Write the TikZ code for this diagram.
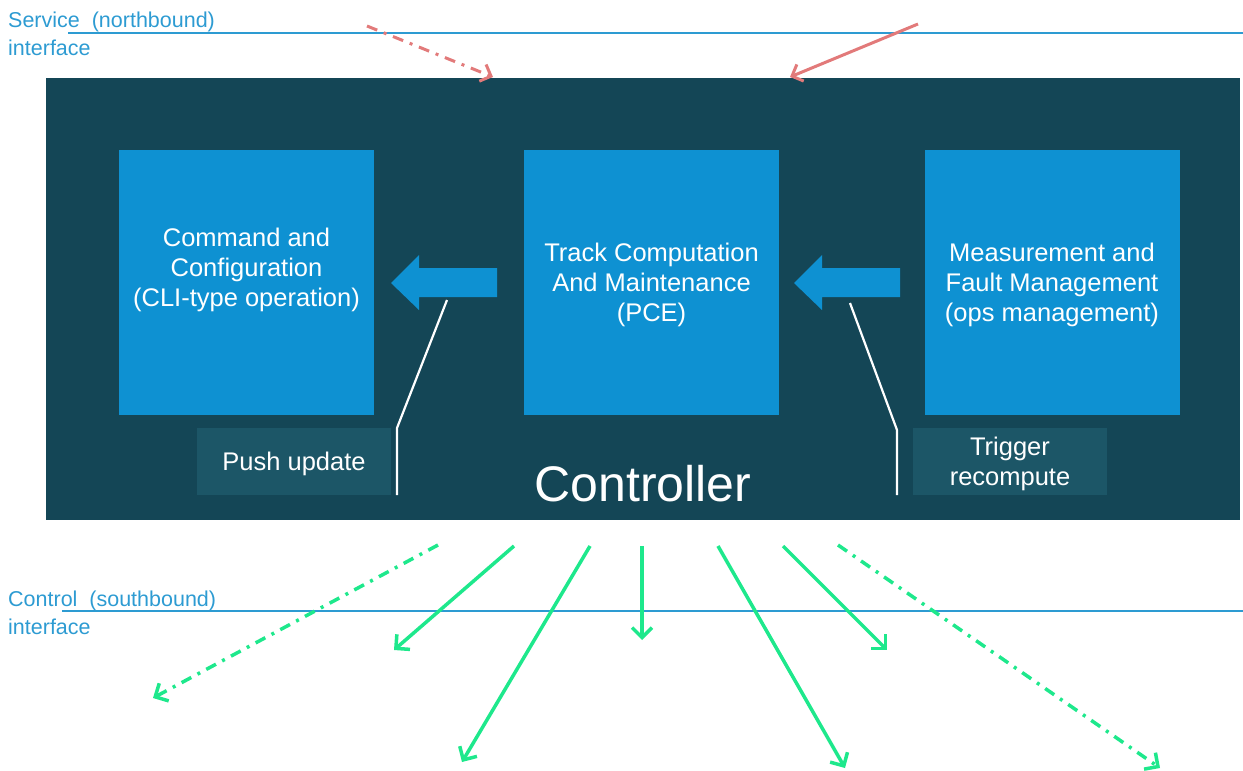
\documentclass[tikz,border=0pt]{standalone}
\usepackage{fontspec}
\setmainfont{Liberation Sans}
\usepackage{tikz}
\usetikzlibrary{arrows.meta}
\usetikzlibrary{calc}
\definecolor{ctrlbg}{RGB}{20,70,86}
\definecolor{boxblue}{RGB}{14,145,210}
\definecolor{tagbg}{RGB}{28,86,103}
\definecolor{ifblue}{RGB}{45,155,210}
\definecolor{sbgreen}{RGB}{30,232,140}
\definecolor{nbpink}{RGB}{226,122,122}
\tikzset{
  funcbox/.style={fill=boxblue, minimum width=255pt, minimum height=265pt},
  boxtxt/.style={text=white, align=center, font=\fontsize{25.5}{30}\selectfont},
  tagbox/.style={fill=tagbg, minimum width=194pt, minimum height=67pt},
  tagtxt/.style={text=white, align=center, font=\fontsize{25.5}{30}\selectfont},
  iflabel/.style={text=ifblue, align=left, anchor=north west, font=\fontsize{21.5}{28}\selectfont},
  dashdot/.style={dash pattern=on 11pt off 7pt on 3pt off 7pt},
}

\begin{document}
\begin{tikzpicture}[x=1pt, y=-1pt, every node/.style={inner sep=0pt}]
  \useasboundingbox (0,0) rectangle (1243,771);

  % interfaces
  \draw[ifblue, line width=1.3pt] (68, 33) -- (1243, 33);
  \draw[ifblue, line width=1.3pt] (62, 611) -- (1243, 611);
  \node[iflabel] at (8, 12) (nb) {Service\ \ (northbound)\\interface};
  \node[iflabel] at (8, 591) (sb) {Control\ \ (southbound)\\interface};

  % controller
  \node[fill=ctrlbg, minimum width=1194pt, minimum height=442pt] at (643, 299) (ctrl) {};
  \node[text=white, anchor=base, font=\fontsize{50}{60}\selectfont] at (643, 501) (ctrltxt) {Controller};

  \node[funcbox] at (246.5, 282.5) (cc) {};
  \node[boxtxt] at ([yshift=13pt]cc.center) (cctxt) {Command and\\Configuration\\(CLI-type operation)};
  \node[funcbox] at (651.5, 282.5) (tc) {};
  \node[boxtxt] at ([yshift=-2pt]tc.center) (tctxt) {Track Computation\\And Maintenance\\(PCE)};
  \node[funcbox] at (1052, 282.5) (mf) {};
  \node[boxtxt] at ([yshift=-2pt]mf.center) (mftxt) {Measurement and\\Fault Management\\(ops management)};

  \node[tagbox] at (294, 461.5) (push) {};
  \node[tagtxt] at ([yshift=-2pt]push.center) {Push update};
  \node[tagbox] at (1010, 461.5) (trig) {};
  \node[tagtxt] at ([yshift=-2pt]trig.center) {Trigger\\recompute};

  % block arrows
  \fill[boxblue] (497,268) -- (419,268) -- (419,255) -- (391,283) -- (419,310) -- (419,297) -- (497,297) -- cycle;
  \fill[boxblue] (900,268) -- (822,268) -- (822,255) -- (794,283) -- (822,310) -- (822,297) -- (900,297) -- cycle;

  \draw[white, line width=2.2pt] (447,300) -- (397,428) -- (397,495);
  \draw[white, line width=2.2pt] (850,303) -- (897,430) -- (897,495);

  % northbound requests
  \coordinate (n1) at (367, 26);
  \coordinate (n2) at (918, 24);
  \draw[nbpink, line width=3pt, dashdot, -{Straight Barb[length=9pt,width=18pt]}] (n1) -- (493, 77);
  \draw[nbpink, line width=3pt, -{Straight Barb[length=9pt,width=18pt]}] (n2) -- (790, 77);

  % southbound
  \begin{scope}[sbgreen, line width=3.5pt, -{Straight Barb[length=10pt,width=20pt]}]
  \coordinate (s1) at (153, 698);
  \coordinate (s2) at (394, 650);
  \coordinate (s3) at (462, 762);
  \coordinate (s4) at (642, 640);
  \coordinate (s5) at (845, 768);
  \coordinate (s6) at (887, 650);
  \coordinate (s7) at (1160, 768);
  \draw[dashdot] (438, 545) -- (s1);
  \draw (514, 546) -- (s2);
  \draw (590, 546) -- (s3);
  \draw (642, 546) -- (s4);
  \draw (718, 546) -- (s5);
  \draw (783, 546) -- (s6);
  \draw[dashdot] (838, 545) -- (s7);
  \end{scope}
\end{tikzpicture}
\end{document}
